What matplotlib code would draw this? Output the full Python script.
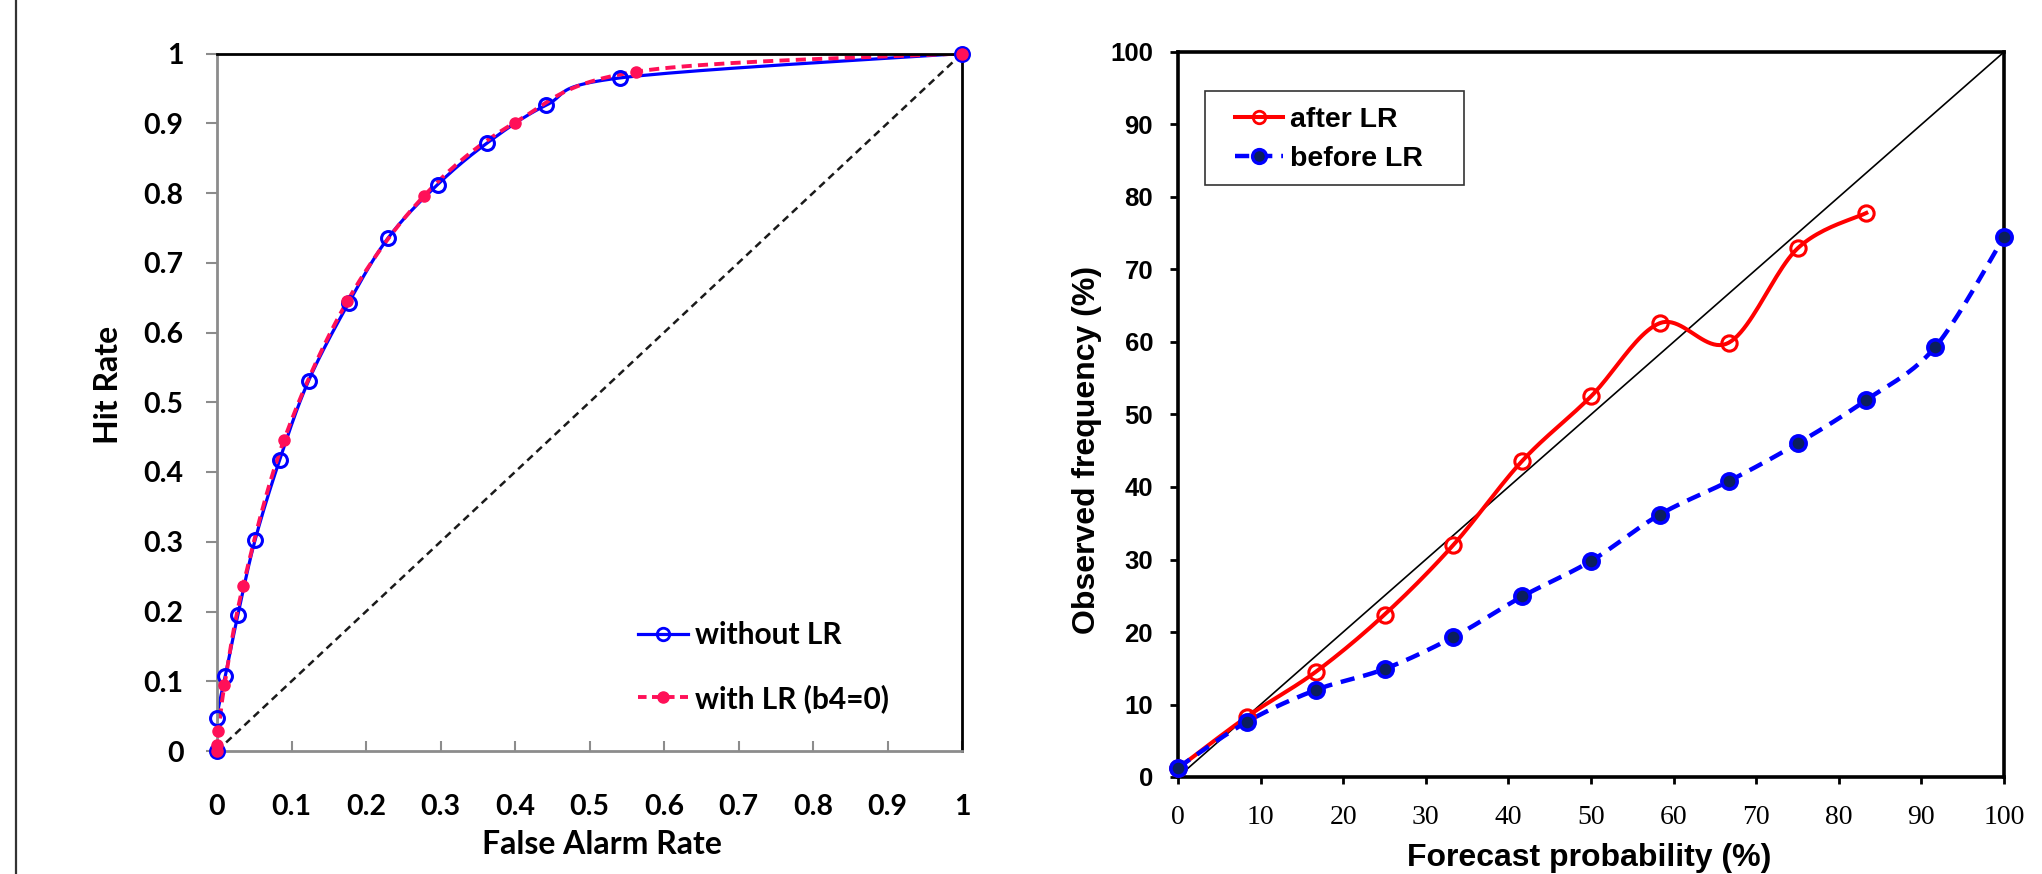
import numpy as np
import matplotlib.pyplot as plt
from matplotlib.lines import Line2D
from matplotlib.patches import Rectangle

# ROC curves (left panel)
far_without = [0.0, 0.0, 0.011, 0.028, 0.051, 0.084, 0.123, 0.177, 0.230, 0.296, 0.363, 0.442, 0.541, 1.0]
hit_without = [0.0, 0.048, 0.107, 0.195, 0.302, 0.417, 0.531, 0.643, 0.736, 0.812, 0.872, 0.926, 0.965, 1.0]
far_with = [0.0, 0.0, 0.002, 0.010, 0.035, 0.090, 0.175, 0.278, 0.400, 0.563, 1.0]
hit_with = [0.0, 0.008, 0.028, 0.094, 0.237, 0.446, 0.645, 0.796, 0.901, 0.974, 1.0]
roc_ticks = [0, 0.1, 0.2, 0.3, 0.4, 0.5, 0.6, 0.7, 0.8, 0.9, 1]
roc_ticklabels = ["0", "0.1", "0.2", "0.3", "0.4", "0.5", "0.6", "0.7", "0.8", "0.9", "1"]

# reliability diagram (right panel)
fc_prob = [0, 8.33, 16.67, 25, 33.33, 41.67, 50, 58.33, 66.67, 75, 83.33, 91.67, 100]
obs_after = [1.2, 8.3, 14.5, 22.4, 32.0, 43.6, 52.5, 62.6, 59.9, 72.9, 77.8]
obs_before = [1.3, 7.6, 12.0, 14.9, 19.3, 24.9, 29.8, 36.2, 40.8, 46.0, 52.0, 59.3, 74.5]
rel_ticks = [0, 10, 20, 30, 40, 50, 60, 70, 80, 90, 100]

W, H = 2042, 874
BLUE = "#0000FF"
PINK = "#FF1058"
RED = "#FF0000"
NAVY = "#0B1F5C"
GRAY = "#8C8C8C"


def smooth(x, y, steps=24):
    # excel style smoothed line: bezier through the points
    p = np.column_stack([x, y]).astype(float)
    p = np.vstack([p[0], p, p[-1]])
    out = [p[1]]
    t = np.linspace(0, 1, steps)[1:, None]
    for i in range(1, len(p) - 2):
        p0, p1, p2, p3 = p[i - 1], p[i], p[i + 1], p[i + 2]
        c1 = p1 + (p2 - p0) / 6
        c2 = p2 - (p3 - p1) / 6
        seg = (1 - t) ** 3 * p1 + 3 * (1 - t) ** 2 * t * c1 + 3 * (1 - t) * t ** 2 * c2 + t ** 3 * p2
        out.extend(seg)
    out = np.array(out)
    return out[:, 0], out[:, 1]


def box(l, t, r, b):
    return [l / W, 1 - b / H, (r - l) / W, (b - t) / H]


fig = plt.figure(figsize=(W / 100, H / 100), dpi=100)
fig.add_artist(Line2D([16 / W, 16 / W], [0, 1], color="#333333", lw=1.6))

tick_left = {"family": "Lato", "weight": "bold", "size": 20.5}
label_left = {"family": "Lato", "weight": "bold", "size": 23}
legend_left = {"family": "Lato", "weight": "bold", "size": 21.5}
arial_tick = {"family": "Liberation Sans", "weight": "bold", "size": 18.5}
arial_label = {"family": "Liberation Sans", "weight": "bold", "size": 23}
times = {"family": "Liberation Serif", "size": 20}

# ---- left: ROC ----
ax1 = fig.add_axes(box(217, 53.5, 962, 751))
ax1.plot([0, 1], [0, 1], color="#1a1a1a", lw=1.8, ls=(0, (3, 2)))
sx, sy = smooth(far_without, hit_without)
ax1.plot(sx, sy, color=BLUE, lw=2.3)
sx, sy = smooth(far_with, hit_with)
ax1.plot(sx, sy, color=PINK, lw=2.8, ls=(0, (2.6, 1.6)))
ax1.plot(far_without, hit_without, ls="none", marker="o", ms=10, mfc="none",
         mec=BLUE, mew=2.2, clip_on=False, zorder=4)
ax1.plot(far_with, hit_with, ls="none", marker="o", ms=8, mfc=PINK,
         mec=PINK, clip_on=False, zorder=5)

ax1.set_xlim(0, 1)
ax1.set_ylim(0, 1)
ax1.set_xticks(roc_ticks)
ax1.set_yticks(roc_ticks)
ax1.set_xticklabels(roc_ticklabels, fontdict=tick_left)
ax1.set_yticklabels(roc_ticklabels, fontdict=tick_left)
ax1.tick_params(axis="y", direction="out", length=8, width=1.5, color=GRAY, pad=16)
ax1.tick_params(axis="x", direction="in", length=7, width=1.5, color=GRAY, pad=31)
for side in ["left", "bottom"]:
    ax1.spines[side].set_color(GRAY)
    ax1.spines[side].set_linewidth(2)
for side in ["top", "right"]:
    ax1.spines[side].set_color("black")
    ax1.spines[side].set_linewidth(2)

fig.text(108 / W, 1 - 385 / H, "Hit Rate", rotation=90, ha="center", va="center", fontdict=label_left)
fig.text(602 / W, 1 - 845 / H, "False Alarm Rate", ha="center", va="center", fontdict=label_left)

h1 = Line2D([], [], color=BLUE, lw=2.3, marker="o", ms=9, mfc="none", mec=BLUE, mew=2)
h2 = Line2D([], [], color=PINK, lw=2.8, ls=(0, (2.2, 1.4)), marker="o", ms=8, mfc=PINK, mec=PINK)
fig.legend([h1, h2], ["without LR", "with LR (b4=0)"], loc="center left",
           bbox_to_anchor=(638 / W, 1 - 667 / H), frameon=False, prop=legend_left,
           handlelength=1.68, handletextpad=0.22, labelspacing=1.15,
           borderpad=0, borderaxespad=0)

# ---- right: reliability ----
ax2 = fig.add_axes(box(1178, 52, 2004, 777))
ax2.plot([0, 100], [0, 100], color="black", lw=1.2)
sx, sy = smooth(fc_prob[:len(obs_after)], obs_after)
ax2.plot(sx, sy, color=RED, lw=2.9)
ax2.plot(fc_prob[:len(obs_after)], obs_after, ls="none", marker="o", ms=11,
         mfc="none", mec=RED, mew=2.2, clip_on=False, zorder=4)
sx, sy = smooth(fc_prob, obs_before)
ax2.plot(sx, sy, color=BLUE, lw=3.2, ls=(0, (3.2, 2.0)))
ax2.plot(fc_prob, obs_before, ls="none", marker="o", ms=11, mfc=NAVY,
         mec=BLUE, mew=2.6, clip_on=False, zorder=5)

ax2.set_xlim(0, 100)
ax2.set_ylim(0, 100)
ax2.set_xticks(rel_ticks)
ax2.set_yticks(rel_ticks)
ax2.set_xticklabels([str(v) for v in rel_ticks], fontdict=times)
ax2.set_yticklabels([str(v) for v in rel_ticks], fontdict=arial_tick)
ax2.tick_params(axis="y", direction="out", length=6, width=2, color="black", pad=12)
ax2.tick_params(axis="x", direction="out", length=5, width=2, color="black", pad=15)
for side in ax2.spines:
    ax2.spines[side].set_color("black")
    ax2.spines[side].set_linewidth(2.6)

fig.text(1087 / W, 1 - 450 / H, "Observed frequency (%)", rotation=90,
         ha="center", va="center", fontdict=arial_label)
fig.text(1589 / W, 1 - 866 / H, "Forecast probability (%)", ha="center",
         va="baseline", fontdict=arial_label)

fig.add_artist(Rectangle((1205 / W, 1 - 185 / H), (1464 - 1205) / W, (185 - 91) / H,
                         transform=fig.transFigure, fill=False, ec="#333333", lw=1.2))
h3 = Line2D([], [], color=RED, lw=2.9, marker="o", ms=9, mfc="none", mec=RED, mew=2)
h4 = Line2D([], [], color=BLUE, lw=3.2, ls=(0, (3.2, 2.0)), marker="o", ms=10,
            mfc=NAVY, mec=BLUE, mew=2.4)
fig.legend([h3, h4], ["after LR", "before LR"], loc="center left",
           bbox_to_anchor=(1235 / W, 1 - 139.5 / H), frameon=False,
           prop={"family": "Liberation Sans", "weight": "bold", "size": 20.5},
           handlelength=1.7, handletextpad=0.22, labelspacing=0.45,
           borderpad=0, borderaxespad=0)

fig.savefig("out.png", dpi=100)
